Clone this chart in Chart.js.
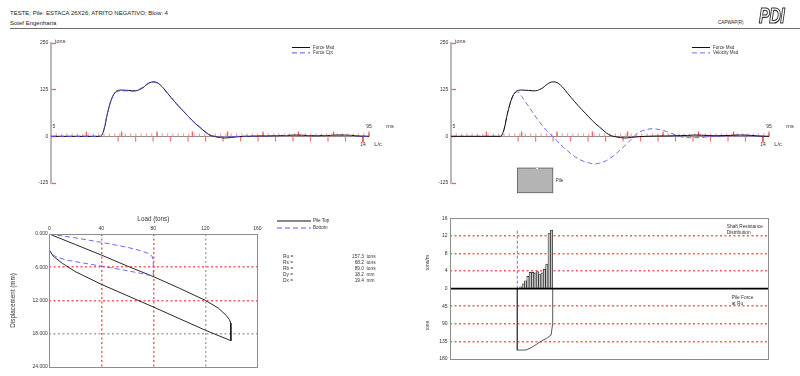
<!DOCTYPE html>
<html>
<head>
<meta charset="utf-8">
<script src="https://cdn.jsdelivr.net/npm/chart.js@4.4.1/dist/chart.umd.min.js"></script>
<style>
  body { margin: 0; width: 800px; height: 376px; overflow: hidden; position: relative; background: #fff;
         font-family: "Liberation Sans", Arial, sans-serif; color: #222; }
  canvas { position: absolute; }
  .t { position: absolute; white-space: nowrap; line-height: 1; }
  .rule { position: absolute; left: 10px; top: 28px; width: 790px; border-top: 1px solid #6e6e6e; }
  .logo { position: absolute; left: 759px; top: 5px; font-size: 16px; font-weight: bold; font-style: italic; line-height: 1;
          color: #fff; -webkit-text-stroke: 0.9px #333; letter-spacing: -0.5px; transform: scaleY(1.35); transform-origin: top left;
          filter: grayscale(1); }
</style>
</head>
<body>
<div class="t" style="left:10px;top:10px;font-size:6px">TESTE; Pile: ESTACA 26X26; ATRITO NEGATIVO; Blow: 4</div>
<div class="t" style="left:10px;top:20px;font-size:6px">Sotef Engenharia</div>
<div class="t" style="left:718px;top:21px;font-size:4.5px">CAPWAP(R)</div>
<div class="logo">PDI</div>
<div class="rule"></div>

<canvas id="forcePlot" width="400" height="170" style="left:0;top:30px"></canvas>
<canvas id="velocityPlot" width="400" height="170" style="left:400px;top:30px"></canvas>
<canvas id="loadPlot" width="400" height="171" style="left:0;top:205px"></canvas>
<canvas id="depthPlot" width="400" height="171" style="left:400px;top:205px"></canvas>

<script>
'use strict';

// upper plots: time (ms) and signals (tons)
const timeMs = [5, 10, 15, 19, 20, 21, 22, 23, 24, 25, 26, 27, 28, 29, 30, 31, 32, 33, 34, 35, 36, 37, 38, 39,
  40, 41, 42, 43, 44, 45, 46, 47, 48, 49, 50, 51, 52, 53, 54, 55, 56, 57, 58,
  60, 62, 64, 66, 68, 70, 72, 74, 76, 78, 80, 82, 84, 86, 88, 90, 92, 95];
const forceMsd = [0, 0, 0, 0, 18, 62, 96, 116, 123, 124, 123.5, 123, 122, 122, 125, 130, 138, 144, 146, 144, 137, 127, 115, 104,
  93, 82, 72, 62, 52, 42, 33, 25, 17, 9, 3, 0, -2, -3.5, -4.5, -4, -3, -2, -1,
  0, 0.5, 1, 1, 1.5, 2, 2.5, 3.5, 3, 2, 1.5, 2, 2.5, 3.5, 3.5, 2.5, 1, 0];
const forceCpt = [0, 0, 0, 0, 20, 64, 97, 115, 121, 122, 122, 121.5, 121, 122, 126, 132, 139, 144, 145, 143, 136, 126, 115, 104,
  93, 82, 72, 62, 52, 43, 34, 26, 18, 10, 4, 1, -1, -2, -2.5, -2, -1, -0.5, 0,
  0.5, 0.5, 1, 1, 1.5, 1.5, 2, 2, 2, 1.5, 1.5, 1.5, 2, 2.5, 2.5, 2, 1, 0];
const velocityMsd = [0, 0, 0, 0, 18, 62, 96, 116, 119, 107, 93, 80, 66, 52, 39, 27, 16, 6, -2, -12, -22, -31, -39, -47,
  -54, -60, -65, -68, -71, -73, -73.5, -72, -69, -65, -59, -52, -44, -35, -27, -18, -8, 2, 10,
  17, 20.5, 18, 13, 6, -1, -3.5, -3.8, -3, -1, 0, 0.5, 1, 1.5, 1, 0.5, 0, 0];
const upperYTicks = [-125, 0, 125, 250];
const msMajorTicks = [15, 25, 35, 45, 55, 65, 75, 85, 95];
const lcTicks = [24.0, 28.95, 33.9, 38.85, 43.8, 48.75, 53.7, 58.65, 63.6, 68.55, 73.5, 78.45, 83.4, 88.35, 93.3];
const pileIcon = { t0: 23.8, t1: 33.8, top: -85, bottom: -151 };

// load - displacement (tons, mm)
const pileTopLoad = [0, 20, 40, 60, 80, 100, 120, 130, 136, 138.6, 139.5, 139.7, 139.7, 120, 80, 40, 20, 10, 3, 0];
const pileTopDisp = [0, 1.9, 3.8, 5.8, 7.7, 9.8, 12.0, 13.4, 14.7, 15.5, 16.1, 16.8, 19.3, 17.4, 13.2, 9.1, 6.8, 5.3, 4.0, 2.9];
const bottomLoad = [0, 20, 40, 60, 70, 76, 79, 79.8, 80, 80, 70, 57, 42, 25, 13, 5, 2, 0.5];
const bottomDisp = [0, 0.7, 1.5, 2.4, 3.0, 3.5, 4.0, 4.6, 5.5, 7.6, 7.1, 6.5, 5.9, 5.2, 4.7, 4.1, 3.6, 3.0];
const loadTicks = [0, 40, 80, 120, 160];
const dispTicks = [0, 6, 12, 18, 24];
const results = [['Ru =', '157.3', 'tons'], ['Rs =', '68.2', 'tons'], ['Rb =', '89.0', 'tons'], ['Dy =', '18.2', 'mm'], ['Dx =', '19.4', 'mm']];

// resistance distribution along the pile (m, tons/m, tons)
const segDepth = [0.57, 1.71, 2.85, 3.99, 5.13, 6.27, 7.41, 8.55, 9.69, 10.83, 11.97, 13.11, 14.25, 15.39, 16.53];
const shaftRes = [0, 0.4, 1.1, 1.8, 2.8, 3.7, 3.7, 3.6, 3.9, 3.2, 3.6, 4.4, 5.6, 12.6, 13.3];
const forceDepth = [0, 0, 4.2, 6.9, 9.4, 11.8, 14.2, 16.3, 17.1, 17.1];
const forceAtRu = [0, 157.3, 157.0, 150.5, 142.0, 133.5, 127.0, 119.0, 89.0, 0];
const markerDepth = [0, 0];
const markerRes = [0, 13.2];
const depthYTicks = [-16, -12, -8, -4, 0, 4, 8, 12, 16];

const FONT = '"Liberation Sans", Arial, sans-serif';
const GRID_RED = '#ff5c5c';
const GRID_GRAY = '#a8a8a8';
Chart.defaults.font.family = FONT;
Chart.defaults.font.size = 5;
Chart.defaults.color = '#333';

const pts = (xs, ys) => xs.map((x, i) => ({ x: x, y: ys[i] }));
const crisp = v => Math.floor(v) + 0.5;

function seg(ctx, x1, y1, x2, y2) {
  ctx.beginPath();
  ctx.moveTo(x1, y1);
  ctx.lineTo(x2, y2);
  ctx.stroke();
}

function label(ctx, str, x, y, size, align) {
  ctx.font = size + 'px ' + FONT;
  ctx.textAlign = align || 'left';
  ctx.textBaseline = 'middle';
  ctx.fillText(str, x, y);
}

function vlabel(ctx, str, x, y, size) {
  ctx.save();
  ctx.translate(x, y);
  ctx.rotate(-Math.PI / 2);
  label(ctx, str, 0, 0, size, 'center');
  ctx.restore();
}

function base(padding) {
  return {
    responsive: false,
    animation: false,
    devicePixelRatio: 1,
    layout: { padding: padding },
    elements: { point: { radius: 0 } },
    plugins: { legend: { display: false }, tooltip: { enabled: false } }
  };
}

// time axis ticks, texts, legend and pile sketch of the upper plots
const upperDecor = {
  id: 'upperDecor',
  beforeDatasetsDraw(chart) {
    const { ctx, scales: { x, y } } = chart;
    const y0 = crisp(y.getPixelForValue(0));
    ctx.save();
    ctx.lineWidth = 1;
    ctx.strokeStyle = '#8c8c8c';
    seg(ctx, x.left, y0, x.right, y0);
    ctx.lineWidth = 1.2;
    ctx.strokeStyle = '#ff9c9c';
    for (let t = 5; t <= 95.01; t += 1.5) {
      const px = x.getPixelForValue(t);
      seg(ctx, px, y0, px, y0 - 3);
    }
    ctx.strokeStyle = '#ff5252';
    msMajorTicks.forEach(t => {
      const px = x.getPixelForValue(t);
      seg(ctx, px, y0, px, y0 - 5);
    });
    lcTicks.forEach((t, i) => {
      const last = i === lcTicks.length - 1;
      const px = x.getPixelForValue(t);
      ctx.strokeStyle = last ? '#e00000' : '#ff7272';
      seg(ctx, px, y0, px, y0 + (last ? 6 : 5));
    });
    ctx.restore();
  },
  afterDraw(chart, args, opts) {
    const { ctx, chartArea: a, scales: { x, y } } = chart;
    const y0 = y.getPixelForValue(0);
    const lcEnd = x.getPixelForValue(lcTicks[lcTicks.length - 1]);
    ctx.save();
    ctx.fillStyle = '#333';
    label(ctx, 'tons', a.left + 4, y.getPixelForValue(250) - 1.5, 5.5, 'left');
    label(ctx, '5', x.getPixelForValue(5) + 3, y0 - 9.5, 5, 'center');
    label(ctx, '95', x.right, y0 - 9.5, 5, 'center');
    label(ctx, 'ms', x.right + 21, y0 - 9.5, 5.5, 'center');
    label(ctx, '14', lcEnd, y0 + 8.5, 5, 'center');
    label(ctx, 'L/c', lcEnd + 15, y0 + 8.5, 5.5, 'center');

    opts.legend.forEach((row, i) => {
      const ly = a.top + 4.5 + i * 5.4;
      ctx.strokeStyle = row.color;
      ctx.lineWidth = 1;
      ctx.setLineDash(row.dash);
      seg(ctx, a.right - 77, ly, a.right - 59, ly);
      ctx.setLineDash([]);
      label(ctx, row.text, a.right - 56, ly, 4.5, 'left');
    });

    if (opts.pile) {
      const l = x.getPixelForValue(pileIcon.t0), r = x.getPixelForValue(pileIcon.t1);
      const t = y.getPixelForValue(pileIcon.top), b = y.getPixelForValue(pileIcon.bottom);
      ctx.fillStyle = '#b4b4b4';
      ctx.fillRect(l, t, r - l, b - t);
      ctx.strokeStyle = '#555';
      ctx.lineWidth = 0.8;
      ctx.strokeRect(l, t, r - l, b - t);
      // small mark at the pile head
      const m = (l + r) / 2 + 2;
      ctx.fillStyle = '#fff';
      ctx.beginPath();
      ctx.moveTo(m - 1.5, t);
      ctx.lineTo(m + 1.5, t);
      ctx.lineTo(m, t + 1.5);
      ctx.closePath();
      ctx.fill();
      ctx.fillStyle = '#333';
      label(ctx, 'Pile', r + 3, (t + b) / 2, 4.5, 'left');
    }
    ctx.restore();
  }
};

function upperPlot(id, series, legendRows, withPile) {
  const options = base({ left: 0, top: 13, right: 31, bottom: 17 });
  options.elements.line = { borderWidth: 1, cubicInterpolationMode: 'monotone' };
  options.scales = {
    x: { type: 'linear', min: 5, max: 95, display: false },
    y: {
      min: -125, max: 250,
      afterBuildTicks: s => { s.ticks = upperYTicks.map(v => ({ value: v })); },
      afterFit: s => { s.width = 51; },
      border: { color: '#b9b9b9', width: 2 },
      grid: { drawOnChartArea: false, tickLength: -5, tickColor: '#ff5c5c', tickWidth: 1.3 },
      ticks: { padding: 7.7, color: '#333' }
    }
  };
  options.plugins.upperDecor = { legend: legendRows, pile: withPile };
  return new Chart(document.getElementById(id), {
    type: 'line',
    data: { datasets: series },
    options: options,
    plugins: [upperDecor]
  });
}

upperPlot('forcePlot', [
  { label: 'Force Cpt', data: pts(timeMs, forceCpt), borderColor: '#5252f2', borderDash: [5, 3] },
  { label: 'Force Msd', data: pts(timeMs, forceMsd), borderColor: '#111' }
], [
  { text: 'Force Msd', color: '#111', dash: [] },
  { text: 'Force Cpt', color: '#5252f2', dash: [5, 3] }
], false);

upperPlot('velocityPlot', [
  { label: 'Force Msd', data: pts(timeMs, forceMsd), borderColor: '#111' },
  { label: 'Velocity Msd', data: pts(timeMs, velocityMsd), borderColor: '#6c6cff', borderDash: [5, 3] }
], [
  { text: 'Force Msd', color: '#111', dash: [] },
  { text: 'Velocity Msd', color: '#6c6cff', dash: [5, 3] }
], true);

// load - displacement plot
const loadDecor = {
  id: 'loadDecor',
  afterDraw(chart) {
    const { ctx, chartArea: a } = chart;
    ctx.save();
    ctx.strokeStyle = '#8d8d8d';
    ctx.lineWidth = 1;
    ctx.strokeRect(crisp(a.left), crisp(a.top), Math.round(a.width), Math.round(a.height));
    ctx.fillStyle = '#333';
    label(ctx, 'Load (tons)', (a.left + a.right) / 2, 14, 6.3, 'center');
    vlabel(ctx, 'Displacement (mm)', 13, (a.top + a.bottom) / 2, 6.3);

    const legend = [['Pile Top', '#111', []], ['Bottom', '#5a5aff', [5, 3]]];
    legend.forEach((row, i) => {
      const ly = 16 + i * 7;
      ctx.strokeStyle = row[1];
      ctx.setLineDash(row[2]);
      seg(ctx, 277, ly, 311, ly);
      ctx.setLineDash([]);
      label(ctx, row[0], 313, ly, 4.6, 'left');
    });

    results.forEach((row, i) => {
      const ry = 51.7 + i * 6.1;
      label(ctx, row[0], 283, ry, 4.8, 'left');
      label(ctx, row[1], 364, ry, 4.8, 'right');
      label(ctx, row[2], 366.5, ry, 4.8, 'left');
    });
    ctx.restore();
  }
};

const redOrGray = (v, red, gray) => red.includes(v) ? GRID_RED : (gray.includes(v) ? GRID_GRAY : 'transparent');

const loadOptions = base({ left: 0, top: 0, right: 142.7, bottom: 9.3 });
loadOptions.elements.line = { borderWidth: 0.9, tension: 0 };
loadOptions.scales = {
  x: {
    type: 'linear', position: 'top', min: 0, max: 160,
    afterBuildTicks: s => { s.ticks = loadTicks.map(v => ({ value: v })); },
    afterFit: s => { s.height = 29; },
    ticks: { padding: 2, color: '#333' },
    grid: { drawTicks: false, lineWidth: 1.5, color: c => redOrGray(c.tick && c.tick.value, [40, 80], [120]) },
    border: { display: false, dash: [2, 2.5] }
  },
  y: {
    min: 0, max: 24, reverse: true,
    afterBuildTicks: s => { s.ticks = dispTicks.map(v => ({ value: v })); },
    afterFit: s => { s.width = 49.3; },
    ticks: { padding: 1.5, color: '#333', callback: v => Number(v).toFixed(3) },
    grid: { drawTicks: false, lineWidth: 1.5, color: c => redOrGray(c.tick && c.tick.value, [6, 12], [18]) },
    border: { display: false, dash: [2, 2.5] }
  }
};

new Chart(document.getElementById('loadPlot'), {
  type: 'line',
  data: {
    datasets: [
      { label: 'Bottom', data: pts(bottomLoad, bottomDisp), borderColor: '#5a5aff', borderDash: [5, 3] },
      { label: 'Pile Top', data: pts(pileTopLoad, pileTopDisp), borderColor: '#111' }
    ]
  },
  options: loadOptions,
  plugins: [loadDecor]
});

// shaft resistance and pile force distribution
const depthDecor = {
  id: 'depthDecor',
  afterDatasetsDraw(chart) {
    const { ctx, chartArea: a, scales: { y } } = chart;
    const y0 = y.getPixelForValue(0);
    ctx.save();
    ctx.strokeStyle = '#000';
    ctx.lineWidth = 1.6;
    seg(ctx, a.left, y0, a.right, y0);
    ctx.restore();
  },
  afterDraw(chart) {
    const { ctx, chartArea: a, scales: { y } } = chart;
    const y0 = y.getPixelForValue(0);
    ctx.save();
    ctx.strokeStyle = '#8d8d8d';
    ctx.lineWidth = 1;
    ctx.strokeRect(crisp(a.left), crisp(a.top), Math.round(a.width), Math.round(a.height));
    ctx.fillStyle = '#333';
    label(ctx, 'Shaft Resistance', a.right - 41.6, a.top + 8.4, 4.8, 'left');
    label(ctx, 'Distribution', a.right - 41.6, a.top + 14.4, 4.8, 'left');
    label(ctx, 'Pile Force', a.right - 36.6, y0 + 9, 4.8, 'left');
    label(ctx, 'at Ru', a.right - 36.6, y0 + 15, 4.8, 'left');
    vlabel(ctx, 'tons/m', 28, y0 - 26, 5.2);
    vlabel(ctx, 'tons', 28, y0 + 37, 5.2);
    ctx.restore();
  }
};

const depthOptions = base({ left: 0, top: 13.3, right: 31.7, bottom: 17 });
depthOptions.scales = {
  x: { type: 'linear', min: -32.5, max: 121.2, display: false, offset: false },
  y: {
    min: -16, max: 16,
    afterBuildTicks: s => { s.ticks = depthYTicks.map(v => ({ value: v })); },
    afterFit: s => { s.width = 50; },
    ticks: { padding: 2.5, color: '#333', callback: v => v >= 0 ? String(v) : String(Math.round(-v * 180 / 16)) },
    grid: {
      drawTicks: false, lineWidth: 1.5,
      color: c => { const v = c.tick && c.tick.value; return (v === 0 || Math.abs(v) === 16) ? 'transparent' : GRID_RED; }
    },
    border: { display: false, dash: [2, 2.5] }
  },
  yF: { min: -180, max: 180, reverse: true, display: false }
};

new Chart(document.getElementById('depthPlot'), {
  type: 'bar',
  data: {
    datasets: [
      { type: 'bar', label: 'Shaft Resistance', data: pts(segDepth, shaftRes), yAxisID: 'y',
        backgroundColor: '#c4c4c4', borderColor: '#222', borderWidth: 0.7, barPercentage: 1, categoryPercentage: 1 },
      { type: 'line', label: 'Pile Force at Ru', data: pts(forceDepth, forceAtRu), yAxisID: 'yF',
        borderColor: '#444', borderWidth: 0.9, tension: 0, pointRadius: 0 },
      { type: 'line', label: 'Marker', data: pts(markerDepth, markerRes), yAxisID: 'y',
        borderColor: '#5a5aff', borderDash: [3, 2], borderWidth: 0.9, pointRadius: 0 }
    ]
  },
  options: depthOptions,
  plugins: [depthDecor]
});
</script>
</body>
</html>
